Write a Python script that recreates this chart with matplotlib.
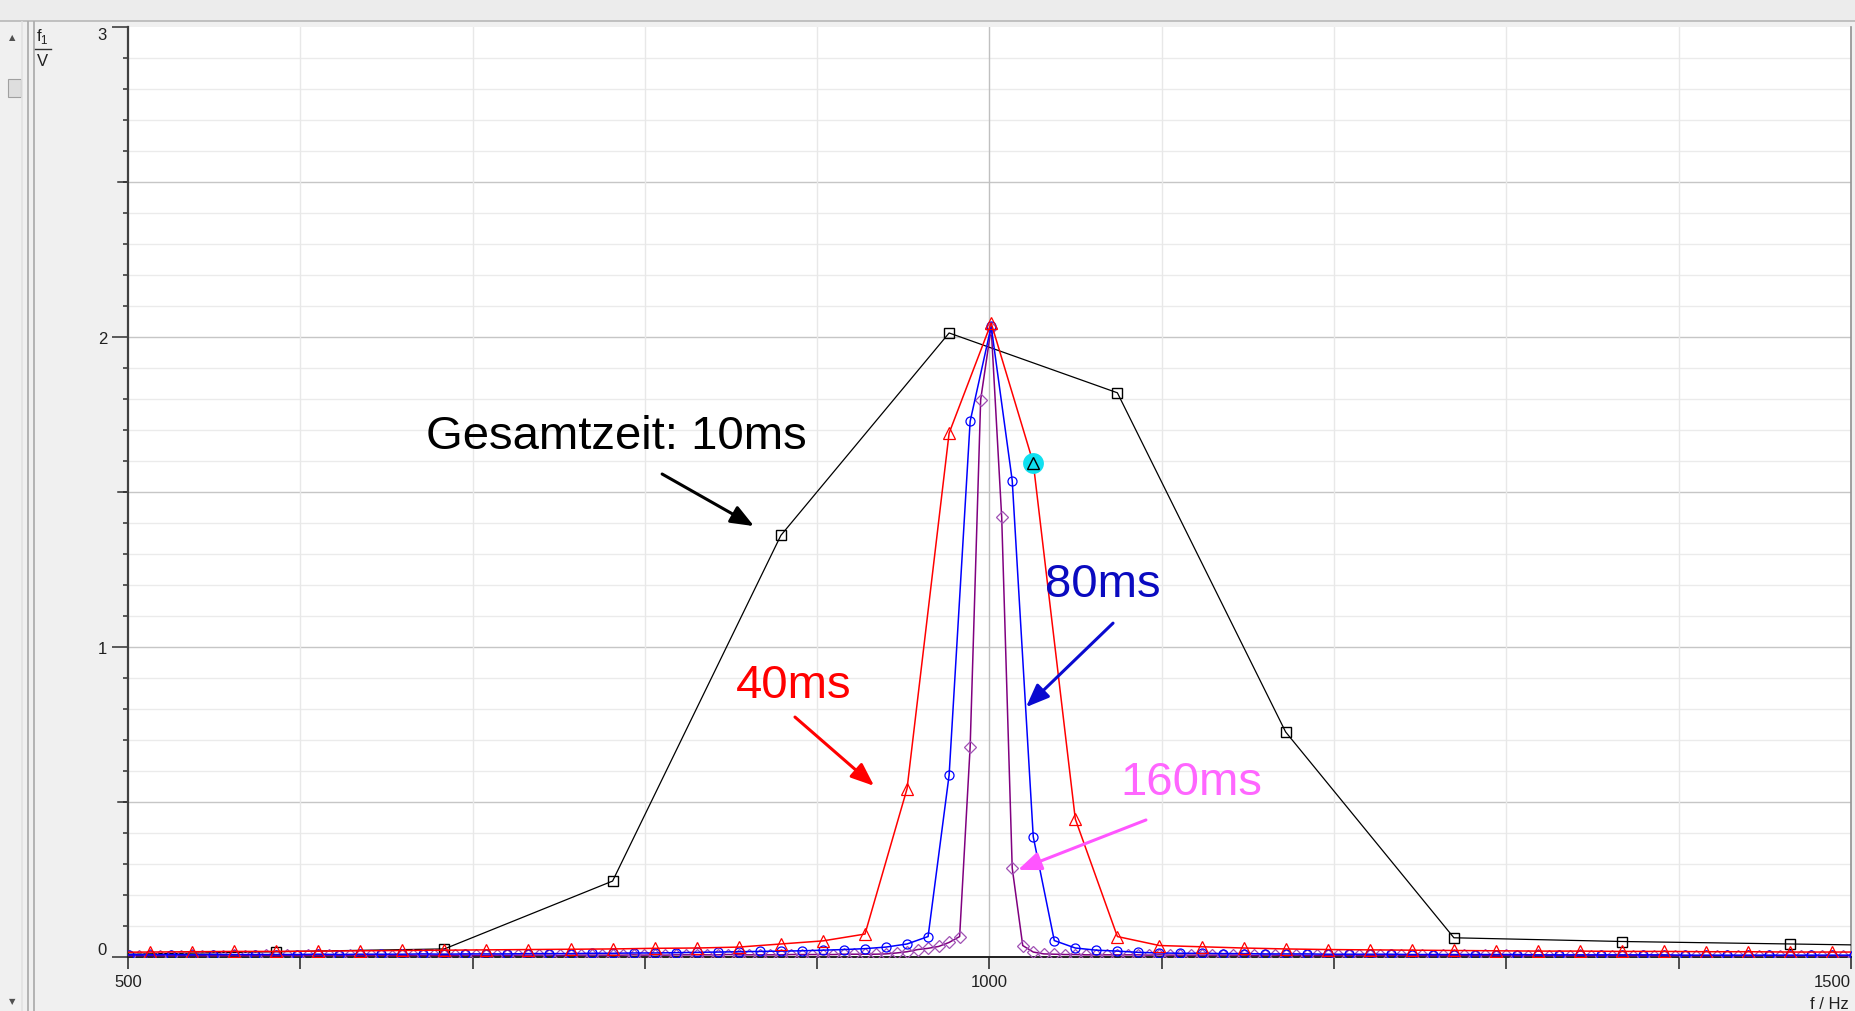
import numpy as np
import matplotlib
matplotlib.use('Agg')
import matplotlib.pyplot as plt
from matplotlib.patches import Rectangle
from matplotlib.lines import Line2D

plt.rcParams['font.family'] = ['Liberation Sans', 'DejaVu Sans']

# ---------------- data ----------------
# frequency resolution (Hz) of each measurement and first bin index
df_10ms = 97.65625
df_40ms = 24.4140625
df_80ms = 12.20703125
df_160ms = 6.103515625

k0_10ms = 5
amp_10ms = [0.008, 0.017, 0.026, 0.245, 1.36, 2.013, 1.82, 0.726, 0.062, 0.050, 0.042, 0.034]

k0_40ms = 20
amp_40ms = [0.015, 0.016, 0.017, 0.018, 0.018, 0.019, 0.020, 0.021, 0.022, 0.023,
            0.024, 0.025, 0.026, 0.028, 0.029, 0.032, 0.042, 0.052, 0.074, 0.543,
            1.690, 2.045, 1.594, 0.445, 0.066, 0.037, 0.033, 0.029, 0.026, 0.024,
            0.023, 0.022, 0.021, 0.020, 0.019, 0.019, 0.018, 0.018, 0.017, 0.017,
            0.016, 0.016, 0.016]

k0_80ms = 40
amp_80ms = [0.007, 0.007, 0.007, 0.008, 0.007, 0.008, 0.008, 0.008, 0.008, 0.008,
            0.009, 0.008, 0.009, 0.009, 0.009, 0.010, 0.009, 0.010, 0.010, 0.010,
            0.011, 0.011, 0.011, 0.012, 0.012, 0.013, 0.013, 0.014, 0.015, 0.016,
            0.017, 0.018, 0.019, 0.020, 0.022, 0.024, 0.027, 0.032, 0.042, 0.066,
            0.587, 1.728, 2.035, 1.537, 0.388, 0.053, 0.029, 0.022, 0.019, 0.015,
            0.013, 0.012, 0.012, 0.011, 0.011, 0.010, 0.010, 0.010, 0.009, 0.009,
            0.009, 0.009, 0.008, 0.008, 0.008, 0.008, 0.008, 0.008, 0.007, 0.007,
            0.007, 0.007, 0.007, 0.007, 0.007, 0.006, 0.006, 0.006, 0.006, 0.006,
            0.006, 0.006, 0.006, 0.006, 0.006]

k0_160ms = 81
amp_160ms = [0.004, 0.004, 0.004, 0.005, 0.004, 0.004, 0.004, 0.005, 0.004, 0.004,
             0.004, 0.005, 0.004, 0.004, 0.005, 0.004, 0.005, 0.004, 0.005, 0.005,
             0.005, 0.004, 0.005, 0.005, 0.005, 0.005, 0.004, 0.005, 0.005, 0.005,
             0.005, 0.005, 0.005, 0.006, 0.005, 0.005, 0.006, 0.005, 0.006, 0.006,
             0.006, 0.006, 0.005, 0.006, 0.006, 0.006, 0.006, 0.006, 0.006, 0.007,
             0.006, 0.007, 0.006, 0.007, 0.007, 0.007, 0.007, 0.007, 0.008, 0.007,
             0.007, 0.007, 0.007, 0.007, 0.008, 0.008, 0.008, 0.008, 0.008, 0.009,
             0.009, 0.009, 0.009,
             0.010, 0.013, 0.017, 0.024, 0.028, 0.034, 0.047, 0.066, 0.678, 1.798,
             2.030, 1.418, 0.287, 0.037, 0.016, 0.010, 0.009, 0.008,
             0.008, 0.007, 0.007, 0.007, 0.007, 0.007, 0.007, 0.006, 0.007, 0.006,
             0.006, 0.006, 0.006, 0.006, 0.006, 0.006, 0.006, 0.005, 0.006, 0.006,
             0.005, 0.006, 0.005, 0.005, 0.005, 0.005, 0.005, 0.005, 0.005, 0.005,
             0.005, 0.005, 0.005, 0.005, 0.004, 0.005, 0.005, 0.005, 0.004, 0.005,
             0.004, 0.005, 0.004, 0.004, 0.005, 0.004, 0.004, 0.004, 0.005, 0.004,
             0.004, 0.004, 0.004, 0.004, 0.004, 0.004, 0.004, 0.004, 0.004, 0.004,
             0.004, 0.004, 0.004, 0.004, 0.003, 0.004, 0.004, 0.004, 0.003, 0.004,
             0.004, 0.003, 0.004, 0.003, 0.004, 0.003]

# highlighted point (40 ms series, bin index)
highlight_k_40ms = 42

x_ticks = [500, 600, 700, 800, 900, 1000, 1100, 1200, 1300, 1400, 1500]
x_tick_labels = ['500', '', '', '', '', '1000', '', '', '', '', '1500']
y_ticks = [0, 1, 2, 3]
y_tick_labels = ['0', '1', '2', '3']

labels = ['Gesamtzeit: 10ms', '40ms', '80ms', '160ms']

# ---------------- figure ----------------
W, H = 1856, 1012
fig = plt.figure(figsize=(W / 100, H / 100), dpi=100, facecolor='#f0f0f0')


def fx(x):
    return x / W


def fy(y):
    return 1 - y / H


# window decorations
fig.add_artist(Line2D([0, 1], [fy(22), fy(22)], color='#b8b8b8', lw=1.2))
fig.add_artist(Rectangle((0, fy(22)), 1, 22 / H, facecolor='#ececec', edgecolor='none', zorder=-1))
for xx, c in [(22, '#e2e2e2'), (28, '#a8a8a8'), (34, '#a8a8a8')]:
    fig.add_artist(Line2D([fx(xx), fx(xx)], [0, fy(23)], color=c, lw=1.2))
fig.add_artist(Rectangle((fx(8), fy(98)), 13 / W, 18 / H, facecolor='#dedede',
                         edgecolor='#a0a0a0', lw=0.8))
fig.text(fx(12), fy(38), '\u25b2', fontsize=6, color='#505050', ha='center', va='center',
         family='DejaVu Sans')
fig.text(fx(12), fy(1002), '\u25bc', fontsize=6, color='#505050', ha='center', va='center',
         family='DejaVu Sans')

# y-axis unit label (fraction style)
fig.text(fx(36), fy(37), r'f$_\mathregular{1}$', fontsize=12, color='#202020', ha='left', va='center')
fig.add_artist(Line2D([fx(35), fx(51)], [fy(50), fy(50)], color='#303030', lw=1.0))
fig.text(fx(37), fy(61), 'V', fontsize=12, color='#202020', ha='left', va='center')

ax = fig.add_axes([fx(128), fy(958), (1851 - 128) / W, (958 - 28) / H])
ax.set_facecolor('white')
ax.set_xlim(500, 1500)
ax.set_ylim(0, 3)

# grid
for v in np.arange(1, 30):
    yv = v / 10
    major = (v % 5 == 0)
    ax.axhline(yv, color='#c6c6c6' if major else '#ebebeb', lw=1.0, zorder=0)
for xv in x_ticks[1:-1]:
    ax.axvline(xv, color='#c0c0c0' if xv == 1000 else '#e8e8e8', lw=1.0, zorder=0)

# spines
ax.spines['top'].set_visible(False)
ax.spines['left'].set_color('#404040')
ax.spines['left'].set_linewidth(1.6)
ax.spines['bottom'].set_color('#202020')
ax.spines['bottom'].set_linewidth(1.4)
ax.spines['right'].set_color('#909090')
ax.spines['right'].set_linewidth(1.2)

# ticks
ax.set_xticks(x_ticks)
ax.set_xticklabels(x_tick_labels)
ax.set_yticks(y_ticks)
ax.set_yticklabels(y_tick_labels)
ax.set_yticks(np.arange(0, 3.001, 0.1), minor=True)
ax.tick_params(axis='x', which='major', direction='out', length=8.6, width=1.1,
               color='#202020', labelsize=12, labelcolor='#202020', pad=4)
ax.tick_params(axis='y', which='major', direction='out', length=11.5, width=1.1,
               color='#303030', labelsize=12, labelcolor='#202020', pad=3.6)
ax.tick_params(axis='y', which='minor', direction='out', length=3.6, width=1.1, color='#303030')
ax.get_xticklabels()[-1].set_horizontalalignment('right')
ytl = ax.get_yticklabels()
ytl[0].set_verticalalignment('bottom')
ytl[-1].set_verticalalignment('top')
# medium ticks at half units
for yv in [0.5, 1.5, 2.5]:
    ax.plot([-10 / 1723, 0], [yv, yv], transform=ax.get_yaxis_transform(), color='#303030',
            lw=1.1, clip_on=False)

fig.text(fx(1849), fy(1005), 'f / Hz', fontsize=12, color='#202020', ha='right', va='center')


def freqs(k0, amps, df):
    return (k0 + np.arange(len(amps))) * df


# series
ax.plot(freqs(k0_10ms, amp_10ms, df_10ms), amp_10ms, color='#000000', lw=0.9,
        marker='s', ms=6.5, mfc='none', mec='#000000', mew=1.0, zorder=3)
ax.plot(freqs(k0_160ms, amp_160ms, df_160ms), amp_160ms, color='#800080', lw=1.1,
        marker='D', ms=6, mfc='none', mec='#a050b4', mew=0.9, zorder=4)
ax.plot(freqs(k0_80ms, amp_80ms, df_80ms), amp_80ms, color='#0000ff', lw=1.1,
        marker='o', ms=6.5, mfc='none', mec='#0000ff', mew=0.9, zorder=5)
ax.plot(freqs(k0_40ms, amp_40ms, df_40ms), amp_40ms, color='#ff0000', lw=1.1,
        marker='^', ms=8, mfc='none', mec='#ff0000', mew=0.9, zorder=6)

hx = highlight_k_40ms * df_40ms
hy = amp_40ms[highlight_k_40ms - k0_40ms]
ax.plot([hx], [hy], marker='o', ms=15, mfc='#10e0f0', mec='none', zorder=7)
ax.plot([hx], [hy], marker='^', ms=8, mfc='none', mec='#000000', mew=1.0, zorder=8)

# annotations
fs = 34
ax.text(673, 1.681, labels[0], fontsize=fs, color='#000000', ha='left', va='center', zorder=10)
ax.text(853, 0.876, labels[1], fontsize=fs, color='#ff0000', ha='left', va='center', zorder=10)
ax.text(1032, 1.204, labels[2], fontsize=fs, color='#0a0ac0', ha='left', va='center', zorder=10)
ax.text(1076, 0.566, labels[3], fontsize=fs, color='#ff66ff', ha='left', va='center', zorder=10)

arrows = [((810, 1.558), (863.3, 1.390), '#000000'),
          ((887.1, 0.774), (933.0, 0.552), '#ff0000'),
          ((1071.7, 1.077), (1021.2, 0.806), '#0a0ad0'),
          ((1090.8, 0.442), (1016.5, 0.281), '#ff55ff')]
for tail, head, c in arrows:
    ax.annotate('', xy=head, xytext=tail,
                arrowprops=dict(arrowstyle='-|>,head_length=1.0,head_width=0.4', color=c,
                                lw=2.2, mutation_scale=14, shrinkA=0, shrinkB=0),
                zorder=10)

fig.savefig('out.png', dpi=100, facecolor=fig.get_facecolor())
